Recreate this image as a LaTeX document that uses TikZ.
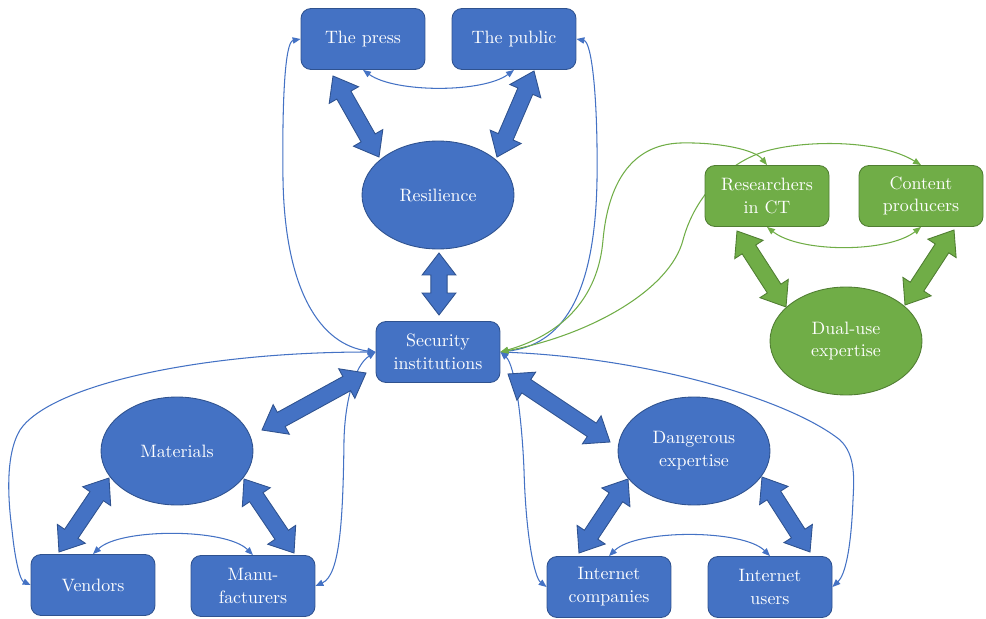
\documentclass[tikz,border=0pt]{standalone}
\usepackage{fontspec}
\usetikzlibrary{shapes.geometric,calc,arrows.meta}
\pgfdeclarelayer{background}
\pgfsetlayers{background,main}
\definecolor{bfill}{HTML}{4472C4}
\definecolor{bline}{HTML}{2F528F}
\definecolor{gfill}{HTML}{70AD47}
\definecolor{gline}{HTML}{507E32}
\tikzset{
 box/.style={rectangle, rounded corners=0.2cm, minimum width=2.48cm, minimum height=1.22cm,
   line width=0.5pt, text=white, align=center, inner sep=1pt,
   font=\rmfamily\fontsize{10.2}{13}\selectfont},
 oval/.style={ellipse, minimum width=3.04cm, minimum height=2.16cm, inner sep=0pt,
   line width=0.5pt, text=white, align=center, font=\rmfamily\fontsize{10.2}{13}\selectfont},
 bnode/.style={fill=bfill, draw=bline},
 gnode/.style={fill=gfill, draw=gline},
 thinb/.style={draw=bfill, line width=0.6pt,
   {Triangle[length=4.5pt,width=3.6pt]}-{Triangle[length=4.5pt,width=3.6pt]}},
 thing/.style={draw=gfill, line width=0.6pt,
   {Triangle[length=4.5pt,width=3.6pt]}-{Triangle[length=4.5pt,width=3.6pt]}},
 barrowb/.style={fill=bfill, draw=bline, line width=0.5pt},
 barrowg/.style={fill=gfill, draw=gline, line width=0.5pt},
}
\newcommand\blockarrow[3]{%
 \filldraw[#1] (#2) -- ($(#2)!12.5pt!(#3)!9.6pt!90:(#3)$) -- ($(#2)!12.5pt!(#3)!4.6pt!90:(#3)$)
  -- ($(#3)!12.5pt!(#2)!4.6pt!-90:(#2)$) -- ($(#3)!12.5pt!(#2)!9.6pt!-90:(#2)$) -- (#3)
  -- ($(#3)!12.5pt!(#2)!9.6pt!90:(#2)$) -- ($(#3)!12.5pt!(#2)!4.6pt!90:(#2)$)
  -- ($(#2)!12.5pt!(#3)!4.6pt!-90:(#3)$) -- ($(#2)!12.5pt!(#3)!9.6pt!-90:(#3)$) -- cycle;}
\begin{document}
\begin{tikzpicture}[x=0.02cm,y=-0.02cm]
\useasboundingbox (0,0) rectangle (986,618);
% nodes
\node[box,bnode] (press) at (363,39) {The press};
\node[box,bnode] (public) at (514,39) {The public};
\node[oval,bnode] (res) at (438,195) {Resilience};
\node[box,bnode] (sec) at (438,352) {Security\\institutions};
\node[oval,bnode] (mat) at (177,451) {Materials};
\node[box,bnode] (vend) at (93,585) {Vendors};
\node[box,bnode] (manu) at (253,586) {Manu-\\facturers};
\node[oval,bnode] (dang) at (694,451) {Dangerous\\expertise};
\node[box,bnode] (icomp) at (609,587) {Internet\\companies};
\node[box,bnode] (iuser) at (770,587) {Internet\\users};
\node[box,gnode] (rct) at (767,196) {Researchers\\in CT};
\node[box,gnode] (cont) at (921,196) {Content\\producers};
\node[oval,gnode] (dual) at (846,341) {Dual-use\\expertise};
% block arrow end points
\coordinate (a1s) at (333,76);  \coordinate (a1e) at (379,157);
\coordinate (a2s) at (534,71);  \coordinate (a2e) at (497,157);
\coordinate (a3s) at (439,253); \coordinate (a3e) at (439,315);
\coordinate (a4s) at (366,373); \coordinate (a4e) at (262,430);
\coordinate (a5s) at (508,374); \coordinate (a5e) at (610,442);
\coordinate (a6s) at (109,478); \coordinate (a6e) at (59,552);
\coordinate (a7s) at (244,479); \coordinate (a7e) at (294,553);
\coordinate (a8s) at (628,479); \coordinate (a8e) at (579,553);
\coordinate (a9s) at (762,477); \coordinate (a9e) at (810,552);
\coordinate (a10s) at (737,231); \coordinate (a10e) at (786,307);
\coordinate (a11s) at (954,230); \coordinate (a11e) at (905,305);
\blockarrow{barrowb}{a1s}{a1e}
\blockarrow{barrowb}{a2s}{a2e}
\blockarrow{barrowb}{a3s}{a3e}
\blockarrow{barrowb}{a4s}{a4e}
\blockarrow{barrowb}{a5s}{a5e}
\blockarrow{barrowb}{a6s}{a6e}
\blockarrow{barrowb}{a7s}{a7e}
\blockarrow{barrowb}{a8s}{a8e}
\blockarrow{barrowb}{a9s}{a9e}
\blockarrow{barrowg}{a10s}{a10e}
\blockarrow{barrowg}{a11s}{a11e}
% thin connectors
\begin{pgfonlayer}{background}
\draw[thinb] (press.south) .. controls (395,93) and (483,93) .. (public.south);
\draw[thinb] (press.west) .. controls (285,42) and (282,100) .. (283,180)
   .. controls (285,290) and (320,345) .. (sec.west);
\draw[thinb] (public.east) .. controls (592,42) and (598,100) .. (597,180)
   .. controls (595,300) and (560,345) .. (sec.east);
\draw[thinb] (sec.west) .. controls (200,352) and (50,385) .. (20,430)
   .. controls (5,455) and (8,500) .. (12,530) .. controls (15,560) and (20,580) .. (vend.west);
\draw[thinb] (sec.west) .. controls (355,365) and (345,400) .. (344,440)
   .. controls (343,520) and (340,575) .. (manu.east);
\draw[thinb] (sec.east) .. controls (515,365) and (522,420) .. (524,470)
   .. controls (526,540) and (535,578) .. (icomp.west);
\draw[thinb] (sec.east) .. controls (650,358) and (790,400) .. (840,440)
   .. controls (856,455) and (854,480) .. (853,500) .. controls (851,550) and (845,575) .. (iuser.east);
\draw[thinb] (vend.north) .. controls (120,528) and (226,528) .. (manu.north);
\draw[thinb] (icomp.north) .. controls (636,529) and (743,529) .. (iuser.north);
\draw[thing] (rct.south) .. controls (800,253) and (888,253) .. (cont.south);
\draw[thing] (sec.east) .. controls (560,335) and (598,300) .. (603,240)
   .. controls (608,185) and (630,145) .. (680,143) .. controls (720,142) and (755,150) .. (rct.north);
\draw[thing] (sec.east) .. controls (590,335) and (670,290) .. (683,240)
   .. controls (695,195) and (730,160) .. (770,150) .. controls (810,140) and (880,140) .. (cont.north);
\end{pgfonlayer}
\end{tikzpicture}
\end{document}
